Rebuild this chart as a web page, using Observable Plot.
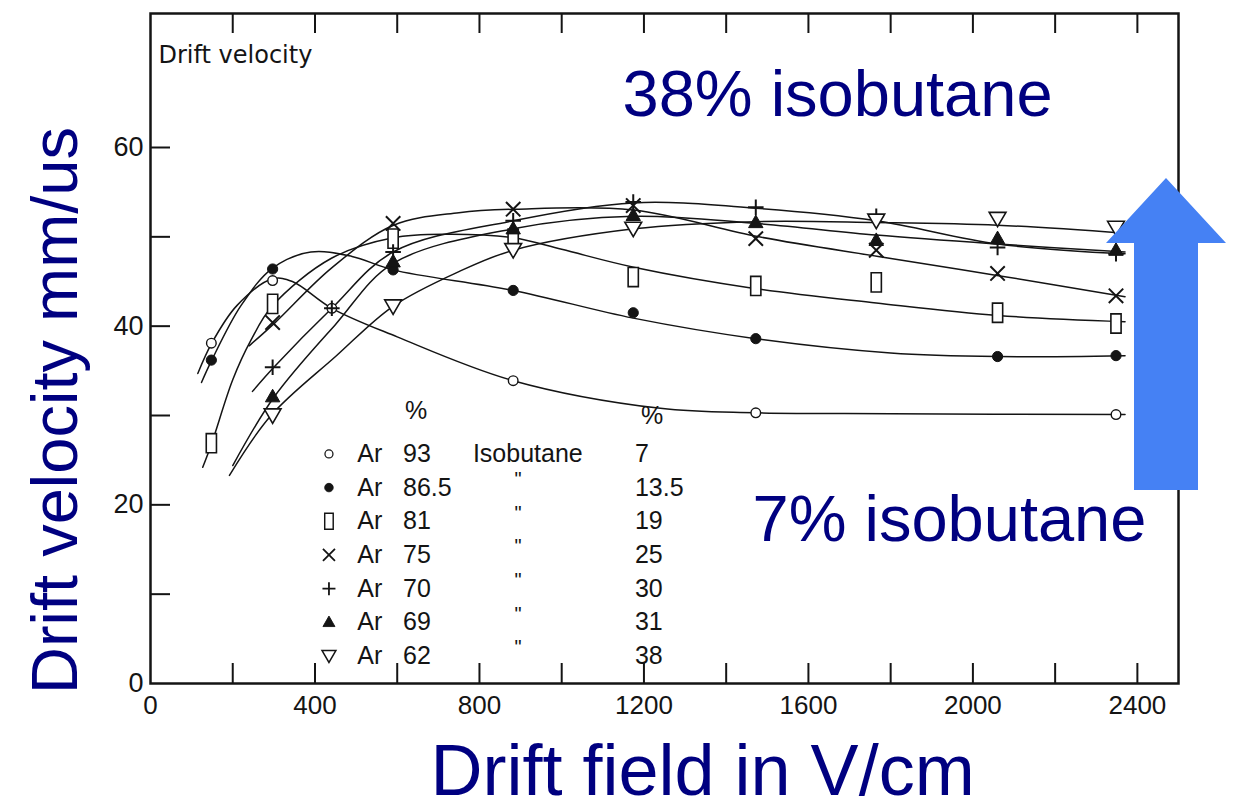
<!DOCTYPE html>
<html>
<head>
<meta charset="utf-8">
<script src="https://cdn.jsdelivr.net/npm/d3@7"></script>
<script src="https://cdn.jsdelivr.net/npm/@observablehq/plot@0.6"></script>
<style>
  body { margin: 0; background: #fff; }
  #chart svg { display: block; }
</style>
</head>
<body>
<div id="chart"></div>
<script>
// ---------------- data ----------------
const fieldV = [148, 297, 441, 590, 882, 1174, 1472, 1765, 2060, 2348]; // V/cm

const v93  = [38.1, 45.1, 42.0, null, 33.9, null, 30.3, null, null, 30.1];
const v865 = [36.2, 46.4, null, 46.3, 44.0, 41.5, 38.6, null, 36.6, 36.7];
const v81  = [26.9, 42.5, null, 49.8, 49.8, 45.5, 44.5, 44.9, 41.5, 40.3];
const v75  = [null, 40.4, null, 51.5, 53.1, 53.5, 49.8, 48.5, 45.9, 43.4];
const v70  = [null, 35.4, 42.0, 48.3, 51.8, 53.9, 53.3, 52.3, 48.8, 48.1];
const v69  = [null, 32.1, null, 47.2, 50.9, 52.4, 51.6, 49.6, 49.8, 48.5];
const v62  = [null, 30.0, null, 42.2, 48.5, 50.9, null, 51.8, 52.0, 51.0];

// hand-drawn fit curves (knots)
const c93  = [[115,34.7],[149,38.1],[210,42.3],[297,45.3],[345,45.0],[441,42.0],[600,38.8],[882,33.9],[1240,30.8],[1472,30.3],[1800,30.2],[2370,30.1]];
const c865 = [[124,33.7],[149,36.2],[220,42.3],[297,46.5],[390,48.3],[490,47.8],[590,46.3],[882,44.0],[1174,40.9],[1472,38.6],[1800,37.0],[2060,36.6],[2370,36.7]];
const c81  = [[127,24.2],[149,26.9],[200,34.0],[244,38.4],[297,42.3],[440,47.6],[590,49.9],[720,50.3],[882,49.9],[1000,48.6],[1175,46.6],[1472,44.2],[1765,42.6],[2060,41.2],[2370,40.5]];
const c75  = [[240,37.8],[303,40.4],[440,46.5],[591,51.3],[750,52.7],[889,53.1],[1174,53.0],[1480,50.0],[1770,47.8],[2070,45.6],[2370,43.3]];
const c70  = [[248,32.7],[300,35.4],[441,42.0],[590,48.3],[882,51.8],[1174,53.8],[1472,53.2],[1765,51.8],[2060,49.2],[2370,48.1]];
const c69  = [[200,24.4],[301,32.1],[450,40.2],[589,47.0],[882,50.9],[1174,52.3],[1472,51.5],[1765,50.2],[2060,49.2],[2370,48.3]];
const c62  = [[192,23.3],[293,30.0],[450,36.6],[589,42.2],[750,46.1],[882,48.5],[1176,50.9],[1472,51.7],[1765,51.6],[2060,51.3],[2370,50.4]];

const argonPct = ["93", "86.5", "81", "75", "70", "69", "62"];
const isoPct   = ["7", "13.5", "19", "25", "30", "31", "38"];

const xTickLabels = [0, 400, 800, 1200, 1600, 2000, 2400];
const xTicks = [200, 400, 600, 800, 1000, 1200, 1400, 1600, 1800, 2000, 2200, 2400];
const yTickLabels = [0, 20, 40, 60];
const yTicks = [10, 20, 30, 40, 50, 60];

// ---------------- symbols ----------------
const R = s => Math.sqrt(s / Math.PI);
const symOpen = { draw(c, s) { const r = R(s) * 0.8; c.moveTo(r, 0); c.arc(0, 0, r, 0, 2 * Math.PI); } };
const symDisc = { draw(c, s) { const r = R(s) * 0.85; c.moveTo(r, 0); c.arc(0, 0, r, 0, 2 * Math.PI); } };
const symRect = { draw(c, s) { const r = R(s), w = r * 0.85, h = r * 1.6; c.rect(-w, -h, 2 * w, 2 * h); } };
const symTimes = { draw(c, s) { const a = R(s) * 1.2; c.moveTo(-a, -a); c.lineTo(a, a); c.moveTo(a, -a); c.lineTo(-a, a); } };
const symPlus = { draw(c, s) { const a = R(s) * 1.3; c.moveTo(-a, 0); c.lineTo(a, 0); c.moveTo(0, -a); c.lineTo(0, a); } };
const symTriUp = { draw(c, s) { const r = R(s); c.moveTo(0, -1.25 * r); c.lineTo(1.2 * r, 0.85 * r); c.lineTo(-1.2 * r, 0.85 * r); c.closePath(); } };
const symTriDown = { draw(c, s) { const r = R(s); c.moveTo(-1.4 * r, -1.1 * r); c.lineTo(1.4 * r, -1.1 * r); c.lineTo(0, 1.3 * r); c.closePath(); } };

const ink = "#141414";
const navy = "#000080";

const series = [
  { v: v93,  c: c93,  sym: symOpen,    fill: "white", stroke: ink, sw: 1.4 },
  { v: v865, c: c865, sym: symDisc,    fill: ink,     stroke: ink, sw: 1 },
  { v: v81,  c: c81,  sym: symRect,    fill: "white", stroke: ink, sw: 1.6 },
  { v: v75,  c: c75,  sym: symTimes,   fill: "none",  stroke: ink, sw: 2 },
  { v: v70,  c: c70,  sym: symPlus,    fill: "none",  stroke: ink, sw: 2 },
  { v: v69,  c: c69,  sym: symTriUp,   fill: ink,     stroke: ink, sw: 1 },
  { v: v62,  c: c62,  sym: symTriDown, fill: "white", stroke: ink, sw: 1.6 }
];

// ---------------- layout ----------------
const W = 1236, H = 810;
const mL = 150, mR = 58, mT = 13, mB = 127;
const fw = W - mL - mR, fh = H - mT - mB;
const tickLen = 20;

// legend (placed in data units inside the frame)
const legTop = 25.7, legStep = 3.77;
const legRows = argonPct.map((a, i) => ({ i, a, iso: isoPct[i], y: legTop - i * legStep }));

const marks = [];

// curves
series.forEach(s => {
  marks.push(Plot.line(s.c, { x: d => d[0], y: d => d[1], curve: "catmull-rom", stroke: ink, strokeWidth: 1.5 }));
});
// markers
series.forEach(s => {
  const pts = fieldV.map((x, i) => ({ x, y: s.v[i] })).filter(d => d.y != null);
  marks.push(Plot.dot(pts, { x: "x", y: "y", r: 6, symbol: s.sym, fill: s.fill, stroke: s.stroke, strokeWidth: s.sw }));
});

// legend symbols and text
series.forEach((s, i) => {
  marks.push(Plot.dot([legRows[i]], { x: 434, y: "y", r: 5, symbol: s.sym, fill: s.fill, stroke: s.stroke, strokeWidth: s.sw * 0.9 }));
});
const legFont = { fontSize: 25, fill: ink, fontFamily: "Liberation Sans" };
marks.push(
  Plot.text(["%"], { x: 646, y: 30.5, text: d => d, textAnchor: "middle", ...legFont }),
  Plot.text(["%"], { x: 1220, y: 30.0, text: d => d, textAnchor: "middle", ...legFont }),
  Plot.text(legRows, { x: 503, y: "y", text: () => "Ar", textAnchor: "start", ...legFont }),
  Plot.text(legRows, { x: 614, y: "y", text: "a", textAnchor: "start", ...legFont }),
  Plot.text(legRows.slice(0, 1), { x: 784, y: "y", text: () => "Isobutane", textAnchor: "start", ...legFont }),
  Plot.text(legRows.slice(1), { x: 894, y: "y", text: () => "\u0022", textAnchor: "middle", dy: -8, ...legFont, fontSize: 20 }),
  Plot.text(legRows, { x: 1178, y: "y", text: "iso", textAnchor: "start", ...legFont })
);

// frame, ticks (inward), tick labels
marks.push(
  Plot.frame({ stroke: ink, strokeWidth: 2.5 }),
  Plot.tickY(yTicks, { y: d => d, stroke: ink, strokeWidth: 2, insetRight: fw - tickLen }),
  Plot.tickX(xTicks, { x: d => d, stroke: ink, strokeWidth: 2, insetTop: fh - tickLen }),
  Plot.tickX(xTicks, { x: d => d, stroke: ink, strokeWidth: 2, insetBottom: fh - tickLen }),
  Plot.axisY({ ticks: yTickLabels, tickSize: 0, tickPadding: 7, fontSize: 27, label: null, color: ink, tickFormat: d => String(d) }),
  Plot.axisX({ ticks: xTickLabels, tickSize: 0, tickPadding: 12, fontSize: 26, label: null, color: ink, tickFormat: d => String(d) })
);

// in-panel heading
marks.push(
  Plot.text(["Drift velocity"], { frameAnchor: "top-left", text: d => d, dx: 8, dy: 49, textAnchor: "start", lineAnchor: "bottom", fontSize: 24, fontFamily: "DejaVu Sans", fill: ink })
);

// blue arrow (annotation), drawn in pixels relative to the frame's right edge
marks.push((index, scales, values, dims) => {
  const cx = dims.width - dims.marginRight - 12;   // arrow centre line
  const tipY = 178, headY = 243, baseY = 490;
  const hw = 60, sw = 32;
  const d = `M${cx},${tipY} L${cx + hw},${headY} L${cx + sw},${headY} L${cx + sw},${baseY} L${cx - sw},${baseY} L${cx - sw},${headY} L${cx - hw},${headY} Z`;
  return d3.create("svg:path").attr("d", d).attr("fill", "#4581f4").node();
});

// big navy annotations
const big = { fontSize: 65, fill: navy, fontFamily: "Liberation Sans", lineAnchor: "bottom" };
marks.push(
  Plot.text(["38% isobutane"], { frameAnchor: "top-left", text: d => d, dx: 472, dy: 102, textAnchor: "start", ...big }),
  Plot.text(["7% isobutane"], { frameAnchor: "top-left", text: d => d, dx: 602, dy: 527, textAnchor: "start", ...big }),
  Plot.text(["Drift velocity mm/us"], { frameAnchor: "left", text: d => d, rotate: -90, dx: -74, dy: 62, textAnchor: "middle", ...big }),
  Plot.text(["Drift field in V/cm"], { frameAnchor: "bottom-left", text: d => d, dx: 280, dy: 111, textAnchor: "start", ...big, fontSize: 72 })
);

const chart = Plot.plot({
  width: W, height: H,
  marginLeft: mL, marginRight: mR, marginTop: mT, marginBottom: mB,
  x: { domain: [0, 2500], axis: null },
  y: { domain: [0, 75], axis: null },
  style: { background: "white", fontFamily: "Liberation Sans", color: ink },
  marks
});
document.getElementById("chart").appendChild(chart);
</script>
</body>
</html>
